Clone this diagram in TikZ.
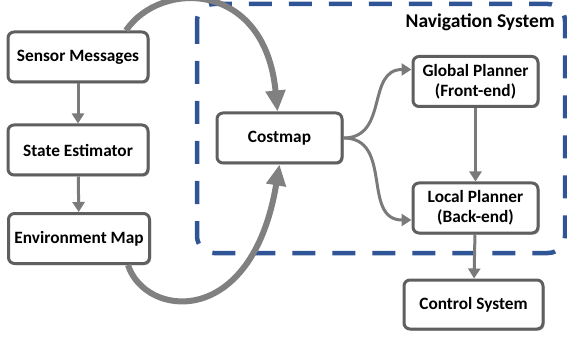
\documentclass[tikz,border=0pt]{standalone}
\usepackage{fontspec}
\setmainfont{Carlito}
\usetikzlibrary{arrows.meta,shadows}
\definecolor{boxline}{HTML}{5F5F5F}
\definecolor{arrowgray}{HTML}{7A7A7A}
\definecolor{biggray}{HTML}{808080}
\definecolor{navblue}{HTML}{2F5597}
\tikzset{
  box/.style={draw=boxline, line width=3pt, rounded corners=6pt, fill=white,
    minimum width=#1, minimum height=50pt, inner sep=0pt, align=center,
    font=\fontsize{17.3}{20}\selectfont\bfseries,
    drop shadow={shadow xshift=1.5pt, shadow yshift=-1.5pt, opacity=0.3, fill=black}},
  box/.default=140pt,
  thinarrow/.style={draw=arrowgray, line width=3pt,
    -{Triangle[length=10pt,width=12pt]}},
  bigarrow/.style={draw=biggray, line width=6pt,
    -{Triangle[length=21pt,width=19pt]}},
  navframe/.style={draw=navblue, line width=4.5pt, rounded corners=17pt,
    dash pattern=on 23pt off 17pt},
  navlabel/.style={font=\fontsize{19.5}{22}\selectfont\bfseries, anchor=base east, inner sep=0pt}
}
\begin{document}
\begin{tikzpicture}[x=1pt,y=-1pt]
\useasboundingbox (0,0) rectangle (567,339);
% navigation frame
\draw[navframe] (197,4) rectangle (565,253);
\node[navlabel] (navlab) at (555,28) {Navigation System};
% boxes
\node[box] (sm) at (78,57) {Sensor Messages};
\node[box] (se) at (78,150) {State Estimator};
\node[box=141pt] (em) at (79,238.5) {Environment Map};
\node[box=125pt] (cm) at (279.5,138) {Costmap};
\node[box=125pt] (gp) at (475.5,81.5) {Global Planner\\(Front-end)};
\node[box=125pt] (lp) at (475.5,208) {Local Planner\\(Back-end)};
\node[box=139pt, minimum height=49pt] (cs) at (473.5,304.5) {Control System};
% thin arrows
\draw[thinarrow] (sm) -- (se);
\draw[thinarrow] (se) -- (em);
\draw[thinarrow] (gp) -- (lp);
\draw[thinarrow] (lp) -- (cs);
\draw[thinarrow] (cm.east) to[out=0,in=180,looseness=1.2] ([yshift=12pt]gp.west);
\draw[thinarrow] (cm.east) to[out=0,in=180,looseness=1.2] ([yshift=-12pt]lp.west);
% big arrows
\draw[bigarrow] ([xshift=48pt]sm.north) .. controls (160,-20) and (265,-20) .. ([xshift=-2pt]cm.north);
\draw[bigarrow] ([xshift=49pt]em.south) .. controls (145,318) and (252,330) .. (cm.south);
\end{tikzpicture}
\end{document}
